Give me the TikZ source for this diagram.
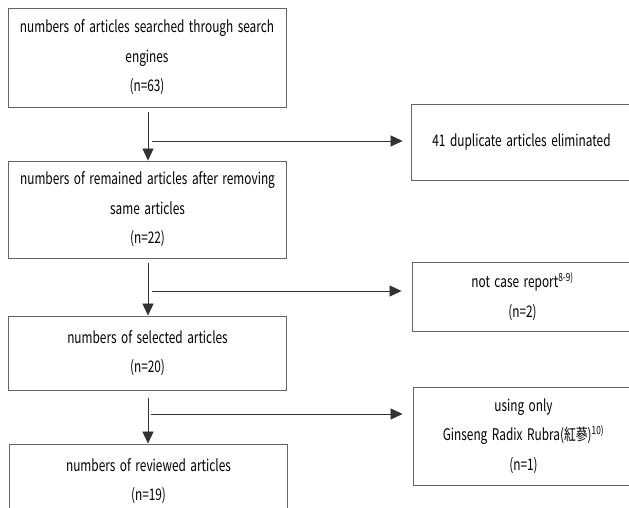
\documentclass[tikz,border=0pt]{standalone}
\usepackage{fontspec}
\setmainfont[FakeStretch=0.74,WordSpace=1.7]{Noto Sans CJK KR}
\usepackage{tikz}
\usetikzlibrary{arrows.meta, positioning, calc}
\definecolor{boxline}{RGB}{100, 100, 100}
\definecolor{linkline}{RGB}{50, 50, 50}
\tikzset{
    stagebox/.style={rectangle, draw=boxline, line width=0.9pt, minimum width=278pt, align=center, inner sep=0pt, font=\fontsize{16}{29.5}\selectfont},
    dropbox/.style={rectangle, draw=boxline, line width=0.9pt, minimum width=221pt, align=center, inner sep=0pt, font=\fontsize{16}{29.5}\selectfont},
    arrow/.style={line width=0.8pt, linkline, -{Triangle[length=12pt, width=11pt]}}
}

\begin{document}
\begin{tikzpicture}[x=1pt, y=-1pt]
    \clip (0,0) rectangle (629,508);
    \fill[white] (0,0) rectangle (629,508);
    % main stages
    \node[stagebox, minimum height=99pt] (search) at (147,57.5) {numbers of articles searched through search\\engines\\(n=63)};
    \node[stagebox, minimum height=97pt] (remain) at (147.5,209.5) {numbers of remained articles after removing\\same articles\\(n=22)};
    \node[stagebox, minimum height=74pt] (select) at (147.5,353) {numbers of selected articles\\(n=20)};
    \node[stagebox, minimum height=74pt] (review) at (148.5,481) {numbers of reviewed articles\\(n=19)};
    % excluded articles
    \node[dropbox, minimum height=76pt] (dup) at (521.5,142) {41 duplicate articles eliminated};
    \node[dropbox, minimum height=69pt] (notcase) at (522.5,296.5) {not case report\textsuperscript{8-9)}\\(n=2)};
    \node[dropbox, minimum height=98pt] (ginseng) at (523.5,436) {using only\\Ginseng Radix Rubra(紅蔘)\textsuperscript{10)}\\(n=1)};
    % flow downwards
    \draw[arrow] ([yshift=-5pt]search.south -| 148,0) -- (remain.north -| 148,0);
    \draw[arrow] ([yshift=-5pt]remain.south -| 148,0) -- (select.north -| 148,0);
    \draw[arrow] ([yshift=-8pt]select.south -| 148,0) -- (review.north -| 148,0);
    % branches to the right
    \coordinate (b1) at (152,141);
    \coordinate (b2) at (152,291);
    \coordinate (b3) at (151,414);
    \draw[arrow] (b1) -- ([xshift=-8pt]b1 -| dup.west);
    \draw[arrow] (b2) -- ([xshift=-10pt]b2 -| notcase.west);
    \draw[arrow] (b3) -- ([xshift=-10pt]b3 -| ginseng.west);
\end{tikzpicture}
\end{document}
